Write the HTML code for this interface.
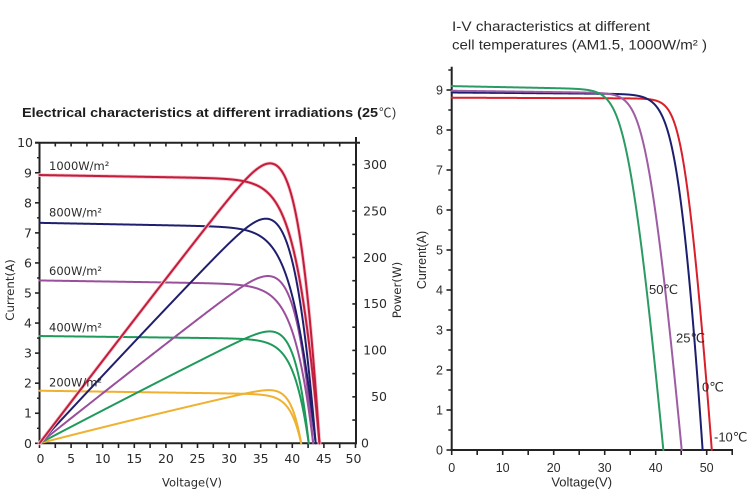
<!DOCTYPE html>
<html><head><meta charset="utf-8">
<style>
html,body{margin:0;padding:0;background:#fff;}
svg{display:block;}
.t{font-family:"DejaVu Sans",sans-serif;fill:#2b2b2b;}
.r{font-family:"Liberation Sans","DejaVu Sans",sans-serif;fill:#2b2b2b;}
</style></head><body>
<svg id="s" width="750" height="498" viewBox="0 0 750 498" xmlns="http://www.w3.org/2000/svg">
<rect width="750" height="498" fill="#fff"/>
<g id="g"></g>
<!-- Left title -->
<text x="22" y="117" font-family="Liberation Sans, sans-serif" font-weight="bold" font-size="13" fill="#1e1e1e" textLength="356" lengthAdjust="spacingAndGlyphs">Electrical characteristics at different irradiations (25</text>
<text x="379" y="117" font-family="Liberation Sans, Noto Sans CJK SC, sans-serif" font-size="12.5" fill="#333">℃</text>
<text x="392" y="117" font-family="Liberation Sans, sans-serif" font-size="12.5" fill="#333">)</text>
<!-- Left y labels -->
<g class="t" font-size="12.5" text-anchor="end">
<text x="32" y="447.8">0</text>
<text x="32" y="417.7">1</text>
<text x="32" y="387.7">2</text>
<text x="32" y="357.6">3</text>
<text x="32" y="327.6">4</text>
<text x="32" y="297.5">5</text>
<text x="32" y="267.4">6</text>
<text x="32" y="237.4">7</text>
<text x="32" y="207.3">8</text>
<text x="32" y="177.3">9</text>
<text x="33" y="147.2">10</text>
</g>
<!-- Left x labels -->
<g class="t" font-size="12.5" text-anchor="middle">
<text x="40.5" y="463">0</text>
<text x="71.1" y="463">5</text>
<text x="102.7" y="463">10</text>
<text x="134.3" y="463">15</text>
<text x="165.9" y="463">20</text>
<text x="197.5" y="463">25</text>
<text x="229.1" y="463">30</text>
<text x="260.7" y="463">35</text>
<text x="292.3" y="463">40</text>
<text x="323.9" y="463">45</text>
<text x="353.5" y="463">50</text>
</g>
<!-- Left power labels -->
<g class="t" font-size="12.5">
<text x="361" y="447.6">0</text>
<text x="387" y="401.1" text-anchor="end">50</text>
<text x="387" y="354.7" text-anchor="end">100</text>
<text x="387" y="308.2" text-anchor="end">150</text>
<text x="387" y="261.8" text-anchor="end">200</text>
<text x="387" y="215.3" text-anchor="end">250</text>
<text x="387" y="168.9" text-anchor="end">300</text>
</g>
<!-- Left axis titles -->
<text class="t" x="192" y="486.5" font-size="11.5" text-anchor="middle">Voltage(V)</text>
<text class="t" font-size="11.8" text-anchor="middle" transform="translate(14,290) rotate(-90)">Current(A)</text>
<text class="t" font-size="11.8" text-anchor="middle" transform="translate(401,290) rotate(-90)">Power(W)</text>
<!-- Irradiance labels -->
<g class="t" font-size="11.5">
<text x="49" y="170">1000W/m²</text>
<text x="49" y="216.7">800W/m²</text>
<text x="49" y="275">600W/m²</text>
<text x="49" y="331.7">400W/m²</text>
<text x="49" y="386.7">200W/m²</text>
</g>
<!-- Right title -->
<text class="r" x="452" y="31" font-size="13.4" textLength="198" lengthAdjust="spacingAndGlyphs">I-V characteristics at different</text>
<text class="r" x="452" y="49.3" font-size="13.4" textLength="255" lengthAdjust="spacingAndGlyphs">cell temperatures (AM1.5, 1000W/m² )</text>
<!-- Right y labels -->
<g class="r" font-size="12.5" text-anchor="end">
<text x="443" y="454.4">0</text>
<text x="443" y="414.4">1</text>
<text x="443" y="374.4">2</text>
<text x="443" y="334.4">3</text>
<text x="443" y="294.4">4</text>
<text x="443" y="254.4">5</text>
<text x="443" y="214.4">6</text>
<text x="443" y="174.4">7</text>
<text x="443" y="134.4">8</text>
<text x="443" y="94.4">9</text>
</g>
<!-- Right x labels -->
<g class="r" font-size="12.5" text-anchor="middle">
<text x="451.7" y="472">0</text>
<text x="502.7" y="472">10</text>
<text x="553.7" y="472">20</text>
<text x="604.7" y="472">30</text>
<text x="655.7" y="472">40</text>
<text x="706.7" y="472">50</text>
</g>
<text class="r" x="581.7" y="486.5" font-size="13" text-anchor="middle">Voltage(V)</text>
<text class="r" font-size="12.5" text-anchor="middle" transform="translate(426,260) rotate(-90)">Current(A)</text>
<!-- Temperature labels -->
<g class="r" font-size="13">
<text x="649" y="294">50℃</text>
<text x="676" y="342.7">25℃</text>
<text x="702" y="391.7">0℃</text>
<text x="714" y="441.7">-10℃</text>
</g>
</svg>
<script>
(function(){
var NS="http://www.w3.org/2000/svg";
var g=document.getElementById('g');
function el(tag,attrs){var e=document.createElementNS(NS,tag);for(var k in attrs)e.setAttribute(k,attrs[k]);g.appendChild(e);return e;}
function ln(x1,y1,x2,y2,w,c){el('line',{x1:x1,y1:y1,x2:x2,y2:y2,stroke:c||'#222','stroke-width':w||1.5});}
function f(n){return n.toFixed(2);}
function path(pts,c,w){var d='M'+f(pts[0][0])+','+f(pts[0][1]);for(var i=1;i<pts.length;i++)d+='L'+f(pts[i][0])+','+f(pts[i][1]);el('path',{d:d,fill:'none',stroke:c,'stroke-width':w||2,'stroke-linejoin':'round','stroke-linecap':'round'});}
function solveI(V,p){
  var lo=-3,hi=p.Iph+1;
  for(var k=0;k<60;k++){
    var I=(lo+hi)/2,Vd=V+I*p.Rs;
    var fv=p.Iph-p.I0*(Math.exp(Vd/p.a)-1)-Vd/p.Rsh-I;
    if(fv>0)lo=I;else hi=I;
  }
  return (lo+hi)/2;
}
function prep(p){p.I0=(p.Iph-p.Voc/p.Rsh)/(Math.exp(p.Voc/p.a)-1);}

/* ---------- LEFT CHART ---------- */
var LX=function(v){return 39.5+v*6.32;}, LY=function(i){return 443.3-i*30.06;}, LP=function(p){return 443.3-p*0.929;};
ln(39.5,142.7,39.5,444.3,2);
ln(38.5,443.3,356.5,443.3,2);
ln(35,142.7,360,142.7,2);
ln(356,137,356,444.3,2);
for(var k=0;k<=20;k++){var y=LY(k*0.5); if(k%2==0) ln(35,y,39.5,y,1.6); else ln(37,y,39.5,y,1.4);}
for(var k=0;k<=20;k++){var x=LX(k*2.5); ln(x,443.3,x,448,1.6);}
for(var k=1;k<20;k++){var x=LX(k*2.5); ln(x,142.7,x,146.5,1.6);}
for(var k=1;k<=12;k++){var y=LP(k*25); ln(352.3,y,356,y,1.6);}

var curves=[
 {Iph:1.75,Voc:41.4,Rsh:330,a:1.5,Rs:0.14,c:'#efb12f'},
 {Iph:3.57,Voc:42.6,Rsh:400,a:1.9,Rs:0.14,c:'#1f9a5b'},
 {Iph:5.42,Voc:43.3,Rsh:300,a:2.294,Rs:0.14,c:'#9a4f9c'},
 {Iph:7.34,Voc:43.7,Rsh:250,a:2.294,Rs:0.22,c:'#1f1f6e'},
 {Iph:8.93,Voc:44.3,Rsh:280,a:2.294,Rs:0.17,c:'#c21d3b'}
];
curves.forEach(function(p){
  prep(p);
  var iv=[],pw=[];
  for(var V=0;V<=p.Voc+0.001;V+=0.05){
    var I=Math.max(0,solveI(V,p));
    iv.push([LX(V),LY(I)]);
    pw.push([LX(V),LP(V*I)]);
  }
  iv.push([LX(p.Voc),LY(0)]);pw.push([LX(p.Voc),LP(0)]);
  if(p.c=='#c21d3b'){path(iv,'#f6c3cd',3.6);path(pw,'#f6c3cd',3.6);}
  path(iv,p.c,2);
  path(pw,p.c,2);
});

/* ---------- RIGHT CHART ---------- */
var RX=function(v){return 451.7+v*5.1;}, RY=function(i){return 450-i*40;};
ln(451.7,66.7,451.7,451,2);
ln(450.7,450,733,450,2);
for(var k=0;k<=19;k++){var y=RY(k*0.5); if(k%2==0) ln(446.5,y,451.7,y,1.6); else ln(448.3,y,451.7,y,1.5);}
for(var k=0;k<=11;k++){var x=RX(k*5); ln(x,450,x,455,1.6);}

var rc=[
 {Iph:8.81,Voc:51.0,Rsh:2000,a:1.375,Rs:0.448,c:'#d81f2a'},
 {Iph:8.94,Voc:49.2,Rsh:1000,a:1.84,Rs:0.335,c:'#1c1f6d'},
 {Iph:8.99,Voc:45.1,Rsh:600,a:1.6,Rs:0.571,c:'#9e5ca4'},
 {Iph:9.11,Voc:41.5,Rsh:400,a:1.7,Rs:0.57,c:'#2a9b63'}
];
rc.forEach(function(p){
  prep(p);
  var iv=[];
  for(var V=0;V<=p.Voc+0.001;V+=0.05){
    var I=Math.max(0,solveI(V,p));
    iv.push([RX(V),RY(I)]);
  }
  iv.push([RX(p.Voc),RY(0)]);
  path(iv,p.c,2);
});
})();
</script>
</body></html>
